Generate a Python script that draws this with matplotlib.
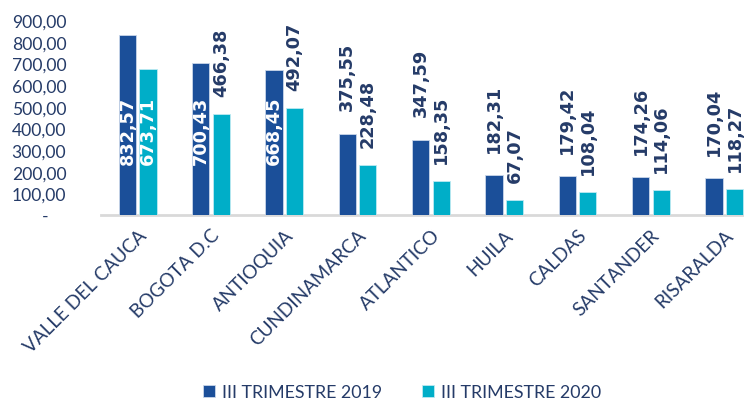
import matplotlib
matplotlib.use("Agg")
import matplotlib.pyplot as plt
import numpy as np

categories = ["VALLE DEL CAUCA", "BOGOTA D.C", "ANTIOQUIA", "CUNDINAMARCA",
              "ATLANTICO", "HUILA", "CALDAS", "SANTANDER", "RISARALDA"]
s2019 = [832.57, 700.43, 668.45, 375.55, 347.59, 182.31, 179.42, 174.26, 170.04]
s2020 = [673.71, 466.38, 492.07, 228.48, 158.35, 67.07, 108.04, 114.06, 118.27]
inside2019 = [True, True, True, False, False, False, False, False, False]
inside2020 = [True, False, False, False, False, False, False, False, False]
series_names = ["III TRIMESTRE 2019", "III TRIMESTRE 2020"]
yticks = [0, 100, 200, 300, 400, 500, 600, 700, 800, 900]

C1 = "#1B4F99"
C2 = "#00AEC8"
TXT = "#253B68"
FONT = ["Lato", "DejaVu Sans"]
plt.rcParams['font.family'] = FONT

def fmt(v):
    return f"{v:,.2f}".replace(",", "X").replace(".", ",").replace("X", ".")

fig = plt.figure(figsize=(7.44, 4.06), dpi=100)
ax = fig.add_axes([101/744, 1-216/406, 1-101/744, (216-21)/406])

x = np.arange(len(categories))
w = 0.235
off = 0.14
b1 = ax.bar(x - off, s2019, w, color=C1, edgecolor="#C9D7EA", linewidth=0.6, label=series_names[0], zorder=3)
b2 = ax.bar(x + off, s2020, w, color=C2, edgecolor="#BDEAF2", linewidth=0.6, label=series_names[1], zorder=3)

ax.set_xlim(-0.5, 8.27)
ax.set_ylim(0, 900)
ax.set_yticks(yticks)
ax.set_yticklabels([fmt(v) if v else "-    " for v in yticks])
ax.tick_params(axis='y', length=0, pad=25, labelsize=12.6, labelcolor=TXT)
ax.set_xticks(x)
ax.set_xticklabels(categories, rotation=45, ha='right', va='top', rotation_mode='anchor')
ax.tick_params(axis='x', length=0, pad=8, labelsize=13.6, labelcolor=TXT)

for s in ["top", "right", "left"]:
    ax.spines[s].set_visible(False)
ax.spines["bottom"].set_color("#D9D9D9")
ax.spines["bottom"].set_linewidth(2)

LBL = dict(rotation=90, ha='center', fontsize=12.8, fontweight='bold',
           family="DejaVu Sans", zorder=4)
for vals, ins, xo, gap in [(s2019, inside2019, -off, 17), (s2020, inside2020, off, 13)]:
    for i, v in enumerate(vals):
        if ins[i]:
            ax.text(x[i] + xo, 392, fmt(v), va='center', color='white', **LBL)
        else:
            ax.annotate(fmt(v), (x[i] + xo, v), xytext=(0, gap), textcoords='offset points',
                        va='bottom', color=TXT, annotation_clip=False, **LBL)

leg = fig.legend(handles=[b1, b2], loc='center', bbox_to_anchor=(402/744, 1-393/406), ncol=2,
                 frameon=False, fontsize=12.8, handlelength=0.7, handleheight=0.7,
                 handletextpad=0.4, columnspacing=2.2)
for t in leg.get_texts():
    t.set_color(TXT)

fig.savefig("out.png", dpi=100)
